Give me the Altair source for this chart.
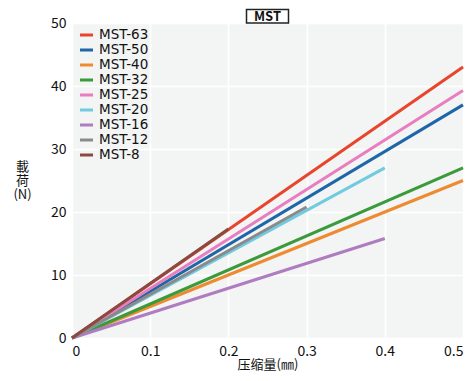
import altair as alt
import pandas as pd

series = ["MST-63", "MST-50", "MST-40", "MST-32", "MST-25", "MST-20", "MST-16", "MST-12", "MST-8"]
x_end = [0.5, 0.5, 0.5, 0.5, 0.5, 0.4, 0.4, 0.3, 0.2]
y_end = [43.0, 37.0, 25.0, 27.0, 39.3, 27.0, 15.8, 20.8, 17.3]
colors = ["#e8452c", "#1f66a8", "#ee8a30", "#3b9a3b", "#e87dbf", "#6fcbe0", "#b07cc0", "#8a8a8a", "#8a4a40"]

rows = []
for i, (s, xe, ye) in enumerate(zip(series, x_end, y_end)):
    rows.append({"series": s, "x": 0.0, "y": 0.0, "o": i})
    rows.append({"series": s, "x": xe, "y": ye, "o": i})
df = pd.DataFrame(rows)

W, H = 391, 315
FONT = "Noto Sans CJK JP"

lines = alt.Chart(df).mark_line(strokeWidth=3, clip=False).encode(
    x=alt.X("x:Q", scale=alt.Scale(domain=[0, 0.5], nice=False),
            axis=alt.Axis(values=[0, 0.1, 0.2, 0.3, 0.4, 0.5], title="压缩量(㎜)",
                          labelExpr="datum.value == 0 ? '0' : format(datum.value, '.1f')")),
    y=alt.Y("y:Q", scale=alt.Scale(domain=[0, 50], nice=False),
            axis=alt.Axis(values=[0, 10, 20, 30, 40, 50], title=["載", "荷", "(N)"],
                          titleAngle=0, titleX=-50, titleY=137, titleAlign="center",
                          titleBaseline="top", titleLineHeight=14)),
    color=alt.Color("series:N", sort=series,
                    scale=alt.Scale(domain=series, range=colors),
                    legend=alt.Legend(title=None, orient="none", legendX=6, legendY=5,
                                      symbolType="stroke", symbolStrokeWidth=3, symbolSize=170,
                                      labelFontSize=13.5, rowPadding=0, clipHeight=14.1,
                                      labelOffset=4,
                                      labelFont="DejaVu Sans", labelColor="#111")),
    detail="series:N",
    order="o:Q",
)

box_df = pd.DataFrame({"t": ["MST"]})
box = alt.Chart(box_df).mark_rect(fill="white", stroke="#222", strokeWidth=1.5, clip=False).encode(
    x=alt.value(W / 2 - 21), x2=alt.value(W / 2 + 21), y=alt.value(-13.5), y2=alt.value(0)
)
title = alt.Chart(box_df).mark_text(font=FONT, fontSize=13, fontWeight="bold", color="#111",
                                    baseline="middle", clip=False).encode(
    x=alt.value(W / 2), y=alt.value(-6.5), text="t:N"
)

chart = alt.layer(lines, box, title).properties(
    width=W, height=H,
    autosize=alt.AutoSizeParams(type="none"),
    padding={"left": 64, "top": 15, "right": 2, "bottom": 34},
).configure_view(
    fill="#f3f4f4", stroke=None
).configure_axis(
    grid=True, gridColor="white", gridWidth=1.5, domain=False, ticks=False,
    labelFont=FONT, labelFontSize=14, labelColor="#111", labelPadding=6,
    titleFont=FONT, titleFontSize=13, titleFontWeight="normal", titleColor="#111",
).configure_axisX(titlePadding=0)

chart.save("out.html", embed_options={"renderer": "svg", "actions": False})
